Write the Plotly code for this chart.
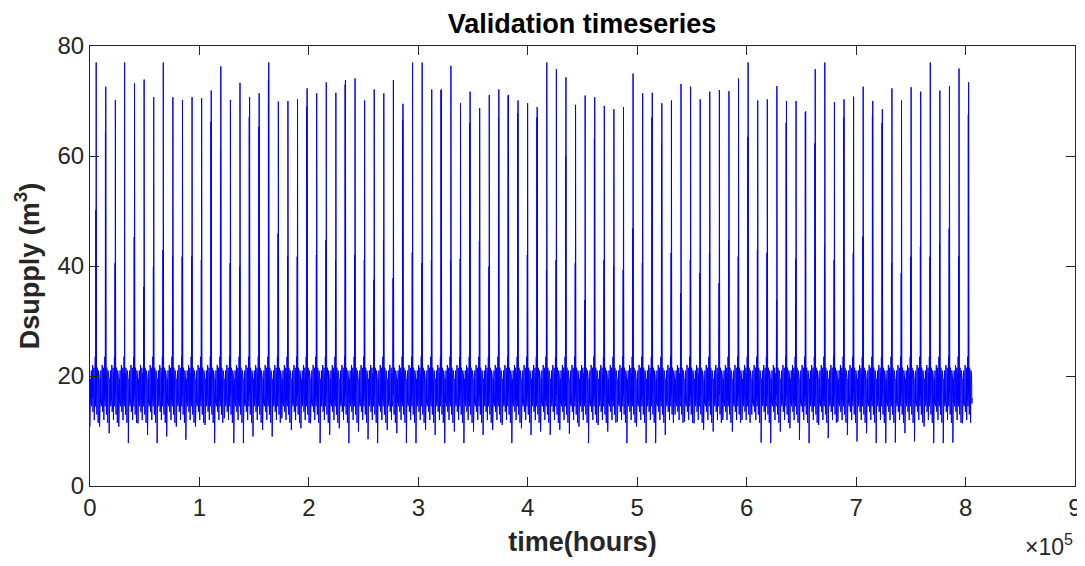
import numpy as np
import plotly.graph_objects as go

# ---------------- data ----------------
HOURS_PER_YEAR = 8760
SPIKE_OFFSET = 5500          # hours into each year where the yearly spike sits
END_HOUR = 806000

# yearly spike peak (m3)
spike_peak = [
    77.0, 72.6, 70.2, 77.0, 73.2, 73.9, 70.7, 77.0, 70.7, 70.2, 70.7, 70.5,
    71.9, 76.3, 70.2, 73.3, 70.7, 71.4, 77.0, 69.9, 70.0, 70.3, 72.3,
    71.4, 73.4, 71.5, 73.8, 74.1, 70.1, 72.1, 71.4, 73.8, 69.5, 77.0, 77.0,
    72.1, 72.1, 76.4, 69.6, 71.7, 68.7, 71.1, 72.1, 71.1, 70.1, 69.6,
    68.9, 77.0, 75.8, 74.3, 69.3, 71.0, 70.7, 69.1, 68.5, 68.9, 75.0, 71.4,
    71.5, 69.6, 70.1, 73.1, 72.6, 70.3, 71.7, 72.0, 71.8, 74.1, 77.0,
    70.1, 70.3, 72.7, 70.0, 70.0, 68.1, 75.8, 77.0, 69.8, 70.3, 70.8, 72.6,
    70.0, 68.5, 72.3, 70.1, 72.5, 71.7, 77.0, 71.9, 72.7, 75.9, 73.4,
]

# level of the thick (double) lower part of each spike (m3)
spike_shoulder = [
    50.2, 64.4, 40.5, 77.0, 45.3, 36.2, 39.9, 42.9, 41.7, 41.7, 41.7, 41.1,
    66.2, 61.1, 40.5, 39.9, 67.1, 65.3, 73.8, 45.9, 41.7, 41.7, 69.0,
    42.0, 44.7, 41.1, 73.0, 42.0, 41.1, 37.5, 44.7, 37.8, 66.5, 42.4, 40.5,
    41.1, 72.0, 41.1, 41.3, 66.0, 44.5, 39.9, 66.9, 71.0, 67.8, 42.0,
    67.0, 39.3, 41.1, 59.9, 40.5, 33.8, 63.2, 41.1, 39.9, 39.3, 46.8, 40.5,
    67.0, 62.3, 42.4, 35.1, 41.1, 38.7, 42.4, 36.9, 44.7, 41.7, 63.5,
    42.9, 42.4, 33.8, 66.0, 41.3, 68.0, 62.3, 43.5, 41.1, 67.0, 42.4, 45.3,
    67.5, 66.0, 40.5, 38.7, 41.7, 43.5, 41.7, 44.1, 46.8, 41.7, 67.5,
]

# deepest dip of the base flow in each year (m3)
dip_low = [
    10.8, 10.8, 9.6, 10.8, 7.8, 11.4, 9.3, 7.8, 9.0, 10.8, 8.4, 10.8,
    11.1, 7.8, 12.3, 7.8, 7.8, 9.0, 10.2, 9.0, 12.3, 10.2, 10.5, 11.4,
    7.8, 9.3, 10.5, 7.8, 9.9, 8.5, 7.8, 10.2, 9.6, 7.8, 7.8, 10.2,
    9.3, 7.8, 9.9, 7.8, 9.9, 9.3, 10.2, 11.1, 7.8, 10.5, 9.3,
    9.9, 9.3, 10.2, 9.5, 10.8, 7.8, 11.1, 9.9, 11.7, 7.8, 10.8, 7.8,
    7.8, 9.3, 13.2, 11.7, 11.4, 10.2, 9.9, 12.0, 9.9, 12.0, 13.8,
    7.9, 7.8, 9.9, 10.5, 8.4, 7.8, 11.1, 8.7, 11.7, 9.3, 8.1,
    9.6, 7.8, 7.8, 7.9, 9.6, 8.1, 10.8, 7.8, 7.8, 7.9, 11.4,
]

# typical within-year base-flow profile (hours into year, m3)
profile_hours = [300, 600, 900, 1200, 1500, 1800, 2100, 2400, 2700, 3000,
                 3300, 3600, 3900, 4200, 4500, 4800, 5050, 5950, 6250, 6550,
                 6850, 7150, 7450, 7750, 8050, 8350, 8600]
profile_vals = [13.0, 19.5, 15.0, 21.0, 14.5, 20.0, 16.0, 22.0, 13.5, 19.0,
                15.5, 21.5, 12.0, 20.5, 15.5, 23.5, 14.5, 20.5, 13.0, 21.5,
                15.0, 19.5, 11.5, 21.0, 14.5, 20.0, 15.0]

# spike shape around SPIKE_OFFSET (hours relative, level kind)
spike_rel_hours = [-300, -150, 0, 150, 300]
spike_kind = ["base_lo", "shoulder", "base_lo", "peak", "base_hi"]
spike_base = {"base_lo": 16.5, "base_hi": 20.0}

final_value = 16.0

x_ticks = [0, 1, 2, 3, 4, 5, 6, 7, 8, 9]
y_ticks = [0, 20, 40, 60, 80]

# ---------------- build the series ----------------
t_list, v_list = [], []
for k in range(len(spike_peak)):
    start = k * HOURS_PER_YEAR
    pts = [(0, dip_low[k])]
    pts += list(zip(profile_hours, profile_vals))
    for rh, kind in zip(spike_rel_hours, spike_kind):
        if kind == "peak":
            val = spike_peak[k]
        elif kind == "shoulder":
            val = spike_shoulder[k]
        else:
            val = spike_base[kind]
        pts.append((SPIKE_OFFSET + rh, val))
    pts.sort(key=lambda p: p[0])
    for off, val in pts:
        t_list.append(start + off)
        v_list.append(val)
t_list.append(END_HOUR)
v_list.append(final_value)

t = np.array(t_list, dtype=float)
v = np.array(v_list, dtype=float)

# ---------------- figure ----------------
# (the page adds an 8 px body margin, so the figure is 8 px smaller)
AX = "#262626"
FONT = "Liberation Sans, Arial, Helvetica, sans-serif"

fig = go.Figure()
fig.add_trace(go.Scatter(x=t, y=v, mode="lines",
                         line=dict(color="#0000FF", width=1),
                         showlegend=False, hoverinfo="skip"))

fig.update_layout(
    width=1077, height=558,
    paper_bgcolor="white", plot_bgcolor="white",
    margin=dict(l=82, r=10, t=38, b=80, autoexpand=False),
    font=dict(family=FONT, color=AX, size=24),
    title=dict(text="<b>Validation timeseries</b>", x=0.533, xanchor="center",
               y=0.972, yanchor="middle",
               font=dict(family=FONT, size=27, color="black")),
)
fig.update_xaxes(
    range=[0, 9e5], automargin=False,
    tickvals=[v_ * 1e5 for v_ in x_ticks],
    ticktext=[str(v_) for v_ in x_ticks],
    ticks="inside", ticklen=9, tickcolor=AX, tickwidth=1,
    showline=True, linecolor=AX, linewidth=1, mirror="ticks",
    showgrid=False, zeroline=False,
    tickfont=dict(size=24, color=AX, family=FONT),
    title=dict(text="<b>time(hours)</b>", standoff=12,
               font=dict(size=27, color=AX, family=FONT)),
)
fig.update_yaxes(
    range=[0, 80], automargin=False,
    tickvals=y_ticks,
    ticks="inside", ticklen=9, tickcolor=AX, tickwidth=1,
    showline=True, linecolor=AX, linewidth=1, mirror="ticks",
    showgrid=False, zeroline=False,
    tickfont=dict(size=24, color=AX, family=FONT),
    title=dict(text="<b>Dsupply (m<sup>3</sup>)</b>", standoff=10,
               font=dict(size=27, color=AX, family=FONT)),
)
fig.add_annotation(
    text="×10<sup>5</sup>", xref="paper", yref="paper",
    x=1.0, y=-0.135, xanchor="right", yanchor="middle",
    showarrow=False, font=dict(size=23, color=AX, family=FONT),
)

fig.write_html("out.html")
